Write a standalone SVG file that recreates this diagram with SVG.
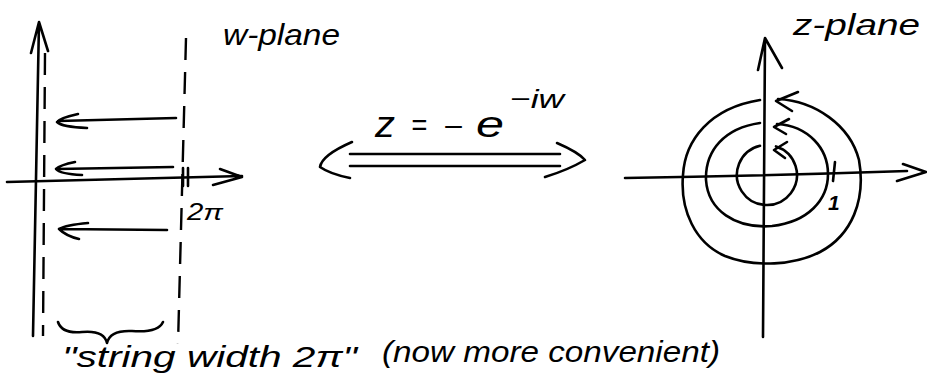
<svg xmlns="http://www.w3.org/2000/svg" width="927" height="381" viewBox="0 0 927 381">
<style>
.s{fill:none;stroke:#000;stroke-width:2.6;stroke-linecap:round;stroke-linejoin:round}
.d{fill:none;stroke:#000;stroke-width:2.4;stroke-dasharray:22 12;stroke-linecap:butt}
.t{font-family:"Liberation Sans","DejaVu Sans",sans-serif;font-style:italic;fill:#000}
</style>
<rect width="927" height="381" fill="#fff"/>
<g id="w-plane">
  <path class="s" d="M39 22 L33 336 M31 53 L39 22 L48 51"/>
  <path class="d" d="M45 53 L43 336"/>
  <path class="d" d="M186 38 L178 344"/>
  <path class="s" d="M7 182 Q110 179 242 176 M220 169 L242 177 L213 185"/>
  <path class="s" d="M183 168 L183 186 M188 168 L188 186"/>
  <text class="t" x="223" y="45" font-size="30" textLength="117" lengthAdjust="spacingAndGlyphs">w-plane</text>
  <text class="t" x="187" y="220" font-size="23" textLength="36" lengthAdjust="spacingAndGlyphs">2π</text>
  <path class="s" d="M58 322 Q62 334 82 332 Q104 330 107 343 Q110 330 132 331 Q158 333 163 322"/>
</g>
<g id="connectors">
  <path class="s" d="M176 118 L58 121 M78 114 Q60 118 57 122 Q62 127 87 128"/>
  <path class="s" d="M173 167 L57 169 M75 162 Q60 165 56 169 Q60 174 82 175"/>
  <path class="s" d="M167 230 L59 229 M88 223 Q66 225 59 229 Q66 236 79 239"/>
</g>
<g id="mapping">
  <text class="t" x="375" y="137" font-size="36" textLength="20" lengthAdjust="spacingAndGlyphs">z</text>
  <text class="t" x="411" y="135" font-size="30" textLength="16" lengthAdjust="spacingAndGlyphs">=</text>
  <text class="t" x="443" y="137" font-size="30" textLength="20" lengthAdjust="spacingAndGlyphs">−</text>
  <text class="t" x="476" y="137" font-size="36" textLength="28" lengthAdjust="spacingAndGlyphs">e</text>
  <text class="t" x="510" y="108" font-size="26" textLength="54" lengthAdjust="spacingAndGlyphs">−iw</text>
  <path class="s" d="M350 154 L560 154 M350 166 L560 166"/>
  <path class="s" d="M352 142 Q322 155 320 167 Q330 174 350 178"/>
  <path class="s" d="M557 143 Q578 152 585 160 Q568 170 545 177"/>
</g>
<g id="z-plane">
  <path class="s" d="M765 38 L763 337 M758 70 L765 38 L782 68"/>
  <path class="s" d="M625 178 Q760 176 907 171 M903 164 L926 172 L897 181"/>
  <path class="s" d="M835 162 L833 181"/>
  <path class="s" d="M778 99 C815 101 850 125 859 160 C866 200 852 235 820 252 C795 265 755 268 725 256 C695 243 680 210 683 175 C685 140 710 108 760 100"/>
  <path class="s" d="M798 92 L776 101 L792 111"/>
  <path class="s" d="M777 124 C808 126 828 148 828 174 C828 200 808 222 772 226 C735 229 708 210 706 180 C705 150 725 128 760 123"/>
  <path class="s" d="M789 119 L774 127 L786 134"/>
  <path class="s" d="M776 146.4 A30 30 0 1 1 760 145.8"/>
  <path class="s" d="M787 142 L774 150 L785 158"/>
  <text class="t" x="828" y="210" font-size="21" font-weight="bold">1</text>
  <text class="t" x="793" y="35" font-size="30" textLength="127" lengthAdjust="spacingAndGlyphs">z-plane</text>
</g>
<text class="t" x="62" y="367" font-size="29" textLength="295" lengthAdjust="spacingAndGlyphs">"string width 2π"</text>
<text class="t" x="382" y="362" font-size="29" textLength="338" lengthAdjust="spacingAndGlyphs">(now more convenient)</text>
</svg>
